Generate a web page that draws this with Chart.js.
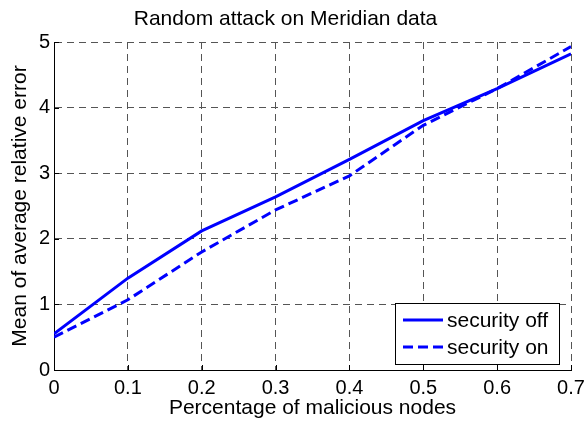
<!DOCTYPE html>
<html>
<head>
<meta charset="utf-8">
<script src="https://cdn.jsdelivr.net/npm/chart.js@4/dist/chart.umd.min.js"></script>
<style>
  html, body { margin: 0; padding: 0; background: #fff; }
  #wrap { width: 588px; height: 423px; }
</style>
</head>
<body>
<div id="wrap"><canvas id="chart" width="588" height="423"></canvas></div>
<script>
// values
const fractions = [0, 0.1, 0.2, 0.3, 0.4, 0.5, 0.6, 0.7];
const securityOff = [0.55, 1.40, 2.12, 2.64, 3.21, 3.80, 4.29, 4.82];
const securityOn = [0.50, 1.07, 1.80, 2.44, 2.96, 3.73, 4.29, 4.93];

const FONT = "'Liberation Sans', Arial, sans-serif";
const BLUE = "#0000ff";

function toPoints(xs, ys) {
    return xs.map((x, i) => ({ x: x, y: ys[i] }));
}

// MATLAB style inward tick marks on the left and bottom axes
const innerTicks = {
    id: "innerTicks",
    afterDatasetsDraw(chart) {
        const ctx = chart.ctx;
        const area = chart.chartArea;
        const xs = chart.scales.x, ys = chart.scales.y;
        ctx.save();
        ctx.strokeStyle = "#000";
        ctx.lineWidth = 1;
        ctx.beginPath();
        ys.ticks.forEach(t => {
            const py = Math.round(ys.getPixelForValue(t.value)) + 0.5;
            ctx.moveTo(area.left, py);
            ctx.lineTo(area.left + 5, py);
        });
        xs.ticks.forEach(t => {
            const px = Math.round(xs.getPixelForValue(t.value)) + 0.5;
            ctx.moveTo(px, area.bottom);
            ctx.lineTo(px, area.bottom - 5);
        });
        ctx.stroke();
        ctx.restore();
    }
};

// legend box in the lower right corner of the plot area
const boxLegend = {
    id: "boxLegend",
    afterDraw(chart) {
        const ctx = chart.ctx;
        const area = chart.chartArea;
        const w = 164, h = 61;
        const x0 = area.right - 12 - w;
        const y0 = area.bottom - 6 - h;
        ctx.save();
        ctx.fillStyle = "#fff";
        ctx.fillRect(x0, y0, w, h);
        ctx.strokeStyle = "#000";
        ctx.lineWidth = 1;
        ctx.strokeRect(Math.round(x0) + 0.5, Math.round(y0) + 0.5, w, h);
        ctx.font = "21px " + FONT;
        ctx.textBaseline = "middle";
        ctx.fillStyle = "#000";
        chart.data.datasets.forEach((ds, i) => {
            const ly = y0 + 17 + i * 27;
            ctx.strokeStyle = ds.borderColor;
            ctx.lineWidth = ds.borderWidth;
            ctx.setLineDash(ds.borderDash || []);
            ctx.beginPath();
            ctx.moveTo(x0 + 8, ly);
            ctx.lineTo(x0 + 48, ly);
            ctx.stroke();
            ctx.setLineDash([]);
            ctx.fillText(ds.label, x0 + 52, ly + 1);
        });
        ctx.restore();
    }
};

new Chart(document.getElementById("chart").getContext("2d"), {
    type: "line",
    data: {
        datasets: [{
            label: "security off",
            data: toPoints(fractions, securityOff),
            borderColor: BLUE,
            borderWidth: 3,
            pointRadius: 0,
            tension: 0
        }, {
            label: "security on",
            data: toPoints(fractions, securityOn),
            borderColor: BLUE,
            borderWidth: 3,
            borderDash: [10, 5],
            pointRadius: 0,
            tension: 0
        }]
    },
    options: {
        responsive: false,
        animation: false,
        devicePixelRatio: 1,
        layout: { padding: { left: 0, right: 17, top: 0, bottom: 0 } },
        plugins: {
            legend: { display: false },
            tooltip: { enabled: false },
            title: {
                display: true,
                text: "Random attack on Meridian data",
                color: "#000",
                font: { family: FONT, size: 21, weight: "normal" },
                padding: { top: 7, bottom: 9.8 }
            }
        },
        scales: {
            x: {
                type: "linear",
                min: 0,
                max: 0.7,
                ticks: {
                    stepSize: 0.1,
                    color: "#000",
                    padding: 6,
                    font: { family: FONT, size: 20 },
                    callback: v => (Math.round(v * 10) / 10).toString()
                },
                grid: { color: "#555", lineWidth: 1, drawTicks: false },
                border: { display: true, color: "#000", width: 1, dash: [7, 5] },
                title: {
                    display: true,
                    text: "Percentage of malicious nodes",
                    color: "#000",
                    font: { family: FONT, size: 21 },
                    padding: { top: 0, bottom: 2 }
                },
                afterFit: s => {
                    s.height = 53;
                    s.paddingLeft = 0;
                    s.paddingRight = 0;
                }
            },
            y: {
                min: 0,
                max: 5,
                ticks: {
                    stepSize: 1,
                    color: "#000",
                    padding: 4,
                    font: { family: FONT, size: 20 }
                },
                grid: { color: "#555", lineWidth: 1, drawTicks: false },
                border: { display: true, color: "#000", width: 1, dash: [7, 5] },
                title: {
                    display: true,
                    text: "Mean of average relative error",
                    color: "#000",
                    font: { family: FONT, size: 21 },
                    padding: { top: 8, bottom: 0 }
                },
                afterFit: s => { s.width = 54; }
            }
        }
    },
    plugins: [innerTicks, boxLegend]
});
</script>
</body>
</html>
